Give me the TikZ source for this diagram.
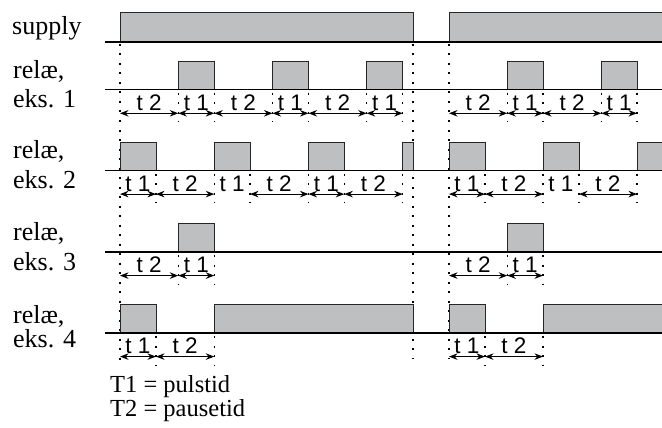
\documentclass[tikz,border=0pt]{standalone}
\usepackage{fontspec}
\setmainfont{Liberation Serif}
\newfontfamily\sansfnt{Liberation Sans}
\usetikzlibrary{arrows.meta}
\definecolor{pulsegray}{RGB}{190,191,193}
\newcounter{lblc}
\tikzset{
  baseline line/.style={line width=1.5pt, black},
  pulsefill/.style={fill=pulsegray},
  pulseedge/.style={draw=black!85, line width=0.9pt},
  dotv/.style={line width=1.3pt, dash pattern=on 2pt off 7.5pt},
  dimarrow/.style={line width=1.2pt, {Stealth[length=8.5pt,width=6.5pt]}-{Stealth[length=8.5pt,width=6.5pt]}},
  tlbl/.style={font=\sansfnt\fontsize{22.5}{24}\selectfont, inner sep=0pt, anchor=base},
  rowlbl/.style={font=\fontsize{26}{30}\selectfont, inner sep=0pt, anchor=base west},
  leglbl/.style={font=\fontsize{24.5}{28}\selectfont, inner sep=0pt, anchor=base west}
}
% pulse: base, top, x1, x2
\newcommand\tpulse[4]{%
  \fill[pulsefill] (#3,#2) rectangle (#4,#1);
  \draw[pulseedge] (#3,#1) -- (#3,#2) -- (#4,#2) -- (#4,#1);
}
% open pulse to the right edge: base, top, x1
\newcommand\tpulseopen[3]{%
  \fill[pulsefill] (#3,#2) rectangle (662,#1);
  \draw[pulseedge] (#3,#1) -- (#3,#2) -- (662,#2);
}
% segment with label and arrow: base, xa, xb, label
\newcommand\tseg[4]{%
  \stepcounter{lblc}%
  \node[tlbl] (seg\arabic{lblc}) at ({(#2+#3)/2},#1+20.5) {#4};
  \draw[dimarrow] (#2,#1+23.6) -- (#3,#1+23.6);
}
% segment with label only
\newcommand\tsegna[4]{%
  \stepcounter{lblc}%
  \node[tlbl] (seg\arabic{lblc}) at ({(#2+#3)/2},#1+20.5) {#4};
}
% tick: base, x
\newcommand\ttick[2]{\draw[dotv] (#2,#1+3) -- (#2,#1+32);}
\begin{document}
\begin{tikzpicture}[x=1pt,y=-1pt]
\useasboundingbox (0,0) rectangle (662,428);
% main dotted verticals
\draw[dotv] (120,44) -- (120,364);
\draw[dotv] (413,44) -- (413,358);
\draw[dotv] (449,44) -- (449,358);

% ---- supply
\tpulse{42}{12}{120}{413}
\tpulseopen{42}{12}{449}
\draw[baseline line] (105,42) -- (662,42);
\node[rowlbl] (lsupply) at (12,35) {supply};

% ---- row 1
\def\b{89.7}\def\t{61.5}
\tpulse{\b}{\t}{178.3}{214.3}
\tpulse{\b}{\t}{272.5}{308.5}
\tpulse{\b}{\t}{366.7}{402.7}
\tpulse{\b}{\t}{507.3}{543}
\tpulse{\b}{\t}{601.3}{637}
\draw[baseline line] (105,\b) -- (662,\b);
\foreach \x in {178.3,214.3,272.5,308.5,366.7,402.7,507.3,543,601.3,637} {\ttick{\b}{\x}}
\tseg{\b}{120}{178.3}{t 2}
\tseg{\b}{178.3}{214.3}{t 1}
\tseg{\b}{214.3}{272.5}{t 2}
\tseg{\b}{272.5}{308.5}{t 1}
\tseg{\b}{308.5}{366.7}{t 2}
\tseg{\b}{366.7}{402.7}{t 1}
\tseg{\b}{449}{507.3}{t 2}
\tseg{\b}{507.3}{543}{t 1}
\tseg{\b}{543}{601.3}{t 2}
\tseg{\b}{601.3}{637}{t 1}
\node[rowlbl] (l1a) at (13,78) {relæ,};
\node[rowlbl] (l1b) at (13,107) {eks. 1};

% ---- row 2
\def\b{170.5}\def\t{142}
\tpulse{\b}{\t}{120}{156}
\tpulse{\b}{\t}{214.3}{250}
\tpulse{\b}{\t}{308.5}{344.3}
\tpulse{\b}{\t}{402.7}{413}
\tpulse{\b}{\t}{449}{485}
\tpulse{\b}{\t}{543}{579}
\tpulseopen{\b}{\t}{637}
\draw[baseline line] (105,\b) -- (662,\b);
\foreach \x in {156,214.3,250,308.5,344.3,402.7,485,543,579,637} {\ttick{\b}{\x}}
\tseg{\b}{120}{156}{t 1}
\tseg{\b}{156}{214.3}{t 2}
\tsegna{\b}{214.3}{250}{t 1}
\tseg{\b}{250}{308.5}{t 2}
\tseg{\b}{308.5}{344.3}{t 1}
\tseg{\b}{344.3}{402.7}{t 2}
\tseg{\b}{449}{485}{t 1}
\tseg{\b}{485}{543}{t 2}
\tsegna{\b}{543}{579}{t 1}
\tseg{\b}{579}{637}{t 2}
\node[rowlbl] (l2a) at (13,158) {relæ,};
\node[rowlbl] (l2b) at (13,188) {eks. 2};

% ---- row 3
\def\b{252}\def\t{223.3}
\tpulse{\b}{\t}{178.3}{214.3}
\tpulse{\b}{\t}{507.3}{543}
\draw[baseline line] (105,\b) -- (662,\b);
\foreach \x in {178.3,214.3,507.3,543} {\ttick{\b}{\x}}
\tseg{\b}{120}{178.3}{t 2}
\tseg{\b}{178.3}{214.3}{t 1}
\tseg{\b}{449}{507.3}{t 2}
\tseg{\b}{507.3}{543}{t 1}
\node[rowlbl] (l3a) at (13,240) {relæ,};
\node[rowlbl] (l3b) at (13,270) {eks. 3};

% ---- row 4
\def\b{333}\def\t{304}
\tpulse{\b}{\t}{120}{156}
\tpulse{\b}{\t}{214.3}{413}
\tpulse{\b}{\t}{449}{485}
\tpulseopen{\b}{\t}{543}
\draw[baseline line] (105,\b) -- (662,\b);
\foreach \x in {156,214.3,485,543} {\ttick{\b}{\x}}
\tseg{\b}{120}{156}{t 1}
\tseg{\b}{156}{214.3}{t 2}
\tseg{\b}{449}{485}{t 1}
\tseg{\b}{485}{543}{t 2}
\node[rowlbl] (l4a) at (13,323) {relæ,};
\node[rowlbl] (l4b) at (13,347) {eks. 4};

% ---- legend
\node[leglbl] (leg1) at (110,392) {T1 = pulstid};
\node[leglbl] (leg2) at (110,416) {T2 = pausetid};
\end{tikzpicture}
\end{document}
